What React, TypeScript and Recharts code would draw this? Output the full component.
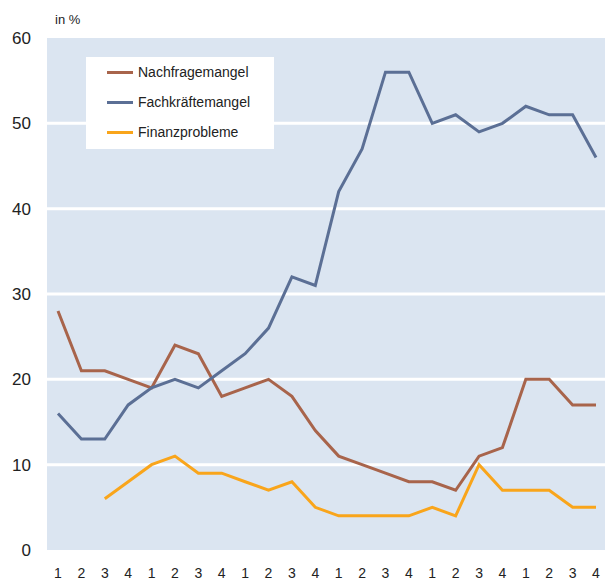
import React from 'react';
import { LineChart, Line, XAxis, YAxis, CartesianGrid } from 'recharts';

// quarters 1-4, six years
const quarters = ['1', '2', '3', '4', '1', '2', '3', '4', '1', '2', '3', '4', '1', '2', '3', '4', '1', '2', '3', '4', '1', '2', '3', '4'];
const nachfrage = [28, 21, 21, 20, 19, 24, 23, 18, 19, 20, 18, 14, 11, 10, 9, 8, 8, 7, 11, 12, 20, 20, 17, 17];
const fachkraefte = [16, 13, 13, 17, 19, 20, 19, 21, 23, 26, 32, 31, 42, 47, 56, 56, 50, 51, 49, 50, 52, 51, 51, 46];
const finanz = [null, null, 6, 8, 10, 11, 9, 9, 8, 7, 8, 5, 4, 4, 4, 4, 5, 4, 10, 7, 7, 7, 5, 5];
const yTicks = [0, 10, 20, 30, 40, 50, 60];

const series = [
  { key: 'nachfrage', name: 'Nachfragemangel', color: '#a8644b' },
  { key: 'fachkraefte', name: 'Fachkräftemangel', color: '#5b6f95' },
  { key: 'finanz', name: 'Finanzprobleme', color: '#f9a51b' },
];

const data = quarters.map((q, i) => ({
  q,
  nachfrage: nachfrage[i],
  fachkraefte: fachkraefte[i],
  finanz: finanz[i],
}));

const font = 'Arial, "Liberation Sans", sans-serif';

export default function App() {
  return (
    <div style={{ position: 'relative', width: 605, height: 580, background: '#fff' }}>
      <style>{'body{margin:0}'}</style>
      <LineChart width={605} height={580} data={data} margin={{ top: 38, right: 0, bottom: 0, left: 0 }}>
        <CartesianGrid vertical={false} fill="#dbe5f1" stroke="#ffffff" strokeWidth={3} horizontalValues={[10, 20, 30, 40, 50]} />
        <XAxis
          dataKey="q"
          height={30}
          axisLine={false}
          tickLine={false}
          tickSize={0}
          tickMargin={18}
          interval={0}
          padding={{ left: 11, right: 9 }}
          tick={{ fill: '#222', fontSize: 14, fontFamily: font }}
        />
        <YAxis
          domain={[0, 60]}
          ticks={yTicks}
          width={47}
          axisLine={false}
          tickLine={false}
          tickSize={0}
          tickMargin={16}
          tick={{ fill: '#222', fontSize: 17, fontFamily: font }}
        />
        {series.map((s) => (
          <Line
            key={s.key}
            type="linear"
            dataKey={s.key}
            name={s.name}
            stroke={s.color}
            strokeWidth={3}
            dot={false}
            activeDot={false}
            isAnimationActive={false}
          />
        ))}
      </LineChart>
      <div style={{ position: 'absolute', left: 55, top: 12, fontSize: 13, fontFamily: font, color: '#222' }}>in %</div>
      <div style={{ position: 'absolute', left: 86, top: 57, width: 188, height: 92, background: '#fff', boxSizing: 'border-box', fontFamily: font }}>
        {series.map((s) => (
          <div key={s.key} style={{ display: 'flex', alignItems: 'center', height: 30, paddingLeft: 21 }}>
            <span style={{ display: 'inline-block', width: 26, height: 3, background: s.color, marginRight: 5 }} />
            <span style={{ fontSize: 14, color: '#222' }}>{s.name}</span>
          </div>
        ))}
      </div>
    </div>
  );
}
